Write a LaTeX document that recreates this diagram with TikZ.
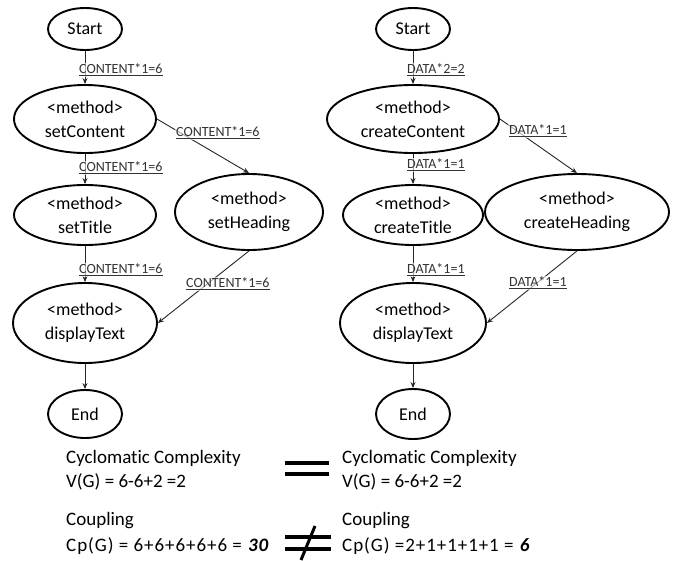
\documentclass[tikz,border=0pt]{standalone}
\usepackage{fontspec}
\setmainfont{Carlito}[Ligatures=NoCommon]
\usetikzlibrary{shapes.geometric,arrows.meta}
\begin{document}
\begin{tikzpicture}[x=1pt,y=-1pt,
  oval/.style={draw, line width=1.9pt, ellipse, inner sep=0pt, align=center,
    font=\fontsize{18}{24}\selectfont},
  conn/.style={line width=0.9pt, black!85},
  arr/.style={conn, -{Stealth[length=6pt,width=5pt]}},
  elabel/.style={anchor=west, inner sep=1pt, fill=white, fill opacity=0.6, text opacity=1,
    text=black!80, font=\fontsize{14}{15}\selectfont},
  btext/.style={anchor=west, inner sep=0pt, font=\fontsize{19}{21}\selectfont},
  wtext/.style={btext, font=\fontsize{19}{21}\selectfont\addfontfeature{LetterSpace=5}},
  bar/.style={line width=4.5pt}
]
\useasboundingbox[fill=white] (0,0) rectangle (677,560);

% ---------- left graph ----------
\node[oval, minimum width=74pt, minimum height=42pt] (s1) at (85,29) {Start};
\node[oval, minimum width=142pt, minimum height=68pt] (c1) at (85,119) {<method>\\setContent};
\node[oval, minimum width=142pt, minimum height=60pt] (t1) at (85,215) {<method>\\setTitle};
\node[oval, minimum width=148pt, minimum height=76pt] (h1) at (249,212) {<method>\\setHeading};
\node[oval, minimum width=144pt, minimum height=80pt] (d1) at (85,323) {<method>\\displayText};
\node[oval, minimum width=74pt, minimum height=48pt] (e1) at (85,414) {End};

\draw[arr] (s1) -- (c1);
\draw[arr] (c1) -- (t1);
\draw[arr] (t1) -- (d1);
\draw[arr] (d1) -- (e1);
\draw[arr] (c1.east) -- (h1.north);
\draw[arr] (h1.south) -- (d1.east);

\node[elabel] (l1) at (78,70) {\underline{CONTENT*1=6}};
\node[elabel] (l2) at (175,133) {\underline{CONTENT*1=6}};
\node[elabel] (l3) at (78,168) {\underline{CONTENT*1=6}};
\node[elabel] (l4) at (78,270) {\underline{CONTENT*1=6}};
\node[elabel] (l5) at (185,284) {\underline{CONTENT*1=6}};

% ---------- right graph ----------
\node[oval, minimum width=74pt, minimum height=42pt] (s2) at (413,29) {Start};
\node[oval, minimum width=172pt, minimum height=68pt] (c2) at (413,119) {<method>\\createContent};
\node[oval, minimum width=140pt, minimum height=60pt] (t2) at (413,215) {<method>\\createTitle};
\node[oval, minimum width=184pt, minimum height=76pt] (h2) at (577,212) {<method>\\createHeading};
\node[oval, minimum width=146pt, minimum height=80pt] (d2) at (413,323) {<method>\\displayText};
\node[oval, minimum width=74pt, minimum height=50pt] (e2) at (413,414) {End};

\draw[arr] (s2) -- (c2);
\draw[arr] (c2) -- (t2);
\draw[arr] (t2) -- (d2);
\draw[arr] (d2) -- (e2);
\draw[arr] (c2.east) -- (h2.north);
\draw[arr] (h2.south) -- (d2.east);

\node[elabel] (r1) at (406,70) {\underline{DATA*2=2}};
\node[elabel] (r2) at (508,131) {\underline{DATA*1=1}};
\node[elabel] (r3) at (406,165) {\underline{DATA*1=1}};
\node[elabel] (r4) at (406,270) {\underline{DATA*1=1}};
\node[elabel] (r5) at (508,283) {\underline{DATA*1=1}};

% ---------- bottom text ----------
\node[btext] (ccl) at (66,458) {Cyclomatic Complexity};
\node[btext] (vgl) at (66,482) {V(G) = 6-6+2 =2};
\node[btext] (cpl) at (66,521) {Coupling};
\node[wtext] (cgl) at (66,546) {Cp(G) = 6+6+6+6+6 = \textbf{\textit{30}}};

\node[btext] (ccr) at (342,458) {Cyclomatic Complexity};
\node[btext] (vgr) at (342,482) {V(G) = 6-6+2 =2};
\node[btext] (cpr) at (342,521) {Coupling};
\node[wtext] (cgr) at (342,546) {Cp(G) =2+1+1+1+1 = \textbf{\textit{6}}};

% equal sign
\draw[bar] (285,463) -- (329,463);
\draw[bar] (285,474) -- (329,474);
% not-equal sign
\draw[bar] (285,537) -- (331,537);
\draw[bar] (285,549) -- (331,549);
\draw[line width=3pt] (315,526) -- (301,560);
\end{tikzpicture}
\end{document}
